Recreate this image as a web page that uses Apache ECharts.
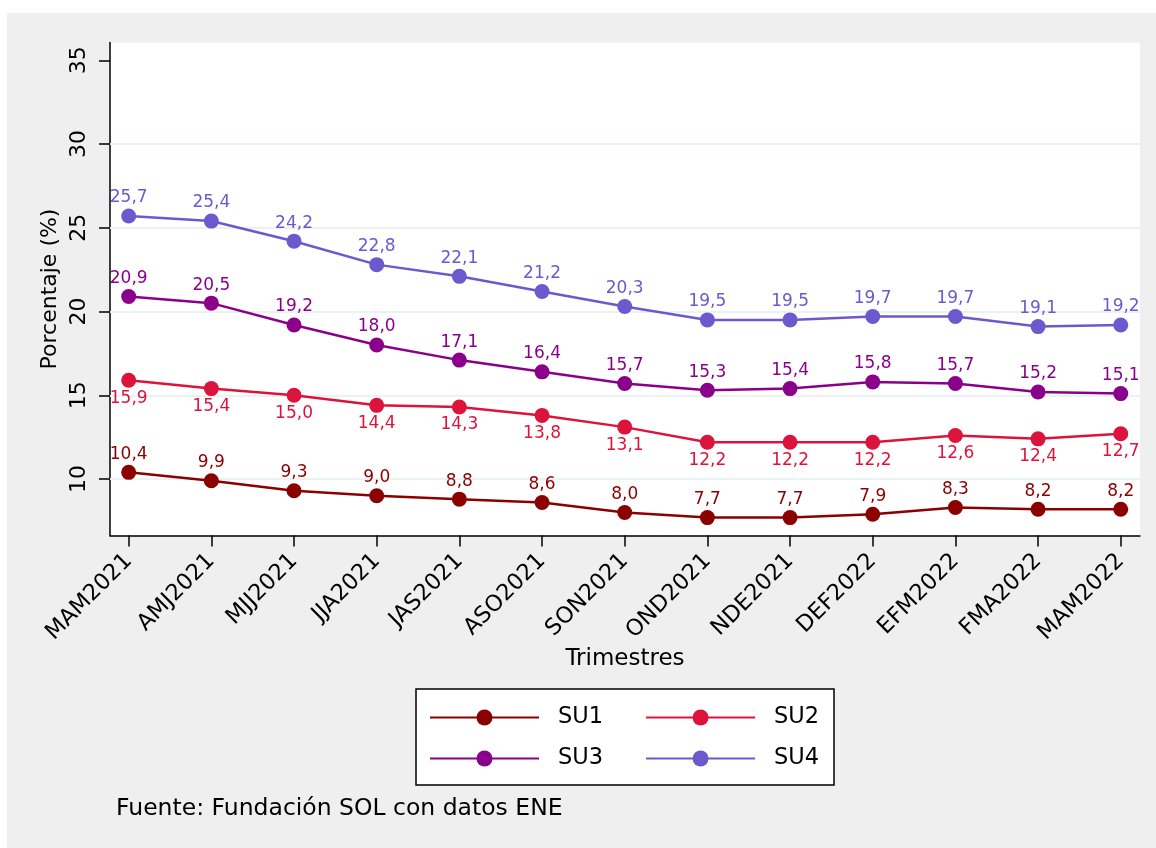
<!DOCTYPE html>
<html>
<head>
<meta charset="utf-8">
<script src="https://cdn.jsdelivr.net/npm/echarts@6/dist/echarts.min.js"></script>
<style>
html,body{margin:0;padding:0;background:#ffffff;width:1156px;height:848px;overflow:hidden;}
#chart{position:absolute;left:7px;top:13px;width:1149px;height:835px;}
</style>
</head>
<body>
<div id="chart"></div>
<script>
const categories = ['MAM2021','AMJ2021','MJJ2021','JJA2021','JAS2021','ASO2021','SON2021','OND2021','NDE2021','DEF2022','EFM2022','FMA2022','MAM2022'];
const su1 = [10.4, 9.9, 9.3, 9.0, 8.8, 8.6, 8.0, 7.7, 7.7, 7.9, 8.3, 8.2, 8.2];
const su2 = [15.9, 15.4, 15.0, 14.4, 14.3, 13.8, 13.1, 12.2, 12.2, 12.2, 12.6, 12.4, 12.7];
const su3 = [20.9, 20.5, 19.2, 18.0, 17.1, 16.4, 15.7, 15.3, 15.4, 15.8, 15.7, 15.2, 15.1];
const su4 = [25.7, 25.4, 24.2, 22.8, 22.1, 21.2, 20.3, 19.5, 19.5, 19.7, 19.7, 19.1, 19.2];
const yTicks = [10, 15, 20, 25, 30, 35];
const gridValues = [10, 15, 20, 25, 30];
const seriesNames = ['SU1', 'SU2', 'SU3', 'SU4'];
const colors = ['#8b0000', '#dc143c', '#8b008b', '#6a5acd'];

const FONT = 'DejaVu Sans';
const xIdx = categories.map((c, i) => i);
const fmt = v => v.toFixed(1).replace('.', ',');

function mkSeries(name, vals, color, pos) {
  return {
    name: name,
    type: 'line',
    data: vals.map((v, i) => [i, v]),
    symbol: 'circle',
    symbolSize: 15,
    zlevel: 1,
    z: 3,
    lineStyle: {color: color, width: 2.5},
    itemStyle: {color: color},
    label: {
      show: true, position: pos, distance: 2,
      color: color, fontFamily: FONT, fontSize: 17,
      formatter: p => fmt(p.value[1])
    },
    emphasis: {disabled: true},
    animation: false
  };
}

const chart = echarts.init(document.getElementById('chart'), null, {renderer: 'canvas'});
chart.setOption({
  backgroundColor: '#efefef',
  animation: false,
  textStyle: {fontFamily: FONT},
  title: {
    text: 'Fuente: Fundación SOL con datos ENE',
    left: 109, top: 784, padding: 0,
    textStyle: {fontFamily: FONT, fontSize: 23.5, fontWeight: 'normal', color: '#000'}
  },
  grid: {
    left: 103, right: 16, top: 29.5, bottom: 312.5,
    show: true, backgroundColor: '#ffffff', borderWidth: 0
  },
  xAxis: {
    type: 'value', min: -0.226, max: 12.233,
    name: 'Trimestres', nameLocation: 'middle', nameGap: 112, nameMoveOverlap: false,
    nameTextStyle: {fontFamily: FONT, fontSize: 23, color: '#000'},
    axisLine: {show: true, onZero: false, lineStyle: {color: '#000', width: 1.5}},
    axisTick: {show: true, length: 11, lineStyle: {color: '#000', width: 1.5}, customValues: xIdx},
    axisLabel: {
      customValues: xIdx, rotate: 45, margin: 22,
      fontFamily: FONT, fontSize: 22.5, color: '#000',
      formatter: v => categories[Math.round(v)]
    },
    splitLine: {show: false}
  },
  yAxis: {
    type: 'value', min: 6.63, max: 36.06,
    name: 'Porcentaje (%)', nameLocation: 'middle', nameGap: 49, nameMoveOverlap: false,
    nameTextStyle: {fontFamily: FONT, fontSize: 22, color: '#000'},
    axisLine: {show: true, onZero: false, lineStyle: {color: '#000', width: 1.5}},
    axisTick: {show: true, length: 11, lineStyle: {color: '#000', width: 1.5}, customValues: yTicks},
    axisLabel: {
      customValues: yTicks, rotate: 90, margin: 20,
      fontFamily: FONT, fontSize: 22, color: '#000'
    },
    splitLine: {show: false}
  },
  legend: [
    {
      data: ['SU1', 'SU2'], left: 422, top: 693, padding: 0,
      itemWidth: 109, itemHeight: 20, itemGap: 42,
      textStyle: {fontFamily: FONT, fontSize: 22.5, color: '#000', padding: [0, 0, 0, 14]},
      selectedMode: false
    },
    {
      data: ['SU3', 'SU4'], left: 422, top: 734, padding: 0,
      itemWidth: 109, itemHeight: 20, itemGap: 42,
      textStyle: {fontFamily: FONT, fontSize: 22.5, color: '#000', padding: [0, 0, 0, 14]},
      selectedMode: false
    }
  ],
  graphic: [{
    type: 'rect', z: -1, silent: true,
    shape: {x: 409, y: 676, width: 418, height: 96},
    style: {fill: '#ffffff', stroke: '#000', lineWidth: 1.5}
  }],
  series: [
    {
      name: 'grid', type: 'line', data: [], z: 1, zlevel: 0, silent: true,
      markLine: {
        silent: true, symbol: 'none', animation: false,
        label: {show: false},
        lineStyle: {color: '#eaf2f3', width: 2, type: 'solid'},
        emphasis: {disabled: true},
        data: gridValues.map(v => ({yAxis: v}))
      }
    },
    mkSeries(seriesNames[0], su1, colors[0], 'top'),
    mkSeries(seriesNames[1], su2, colors[1], 'bottom'),
    mkSeries(seriesNames[2], su3, colors[2], 'top'),
    mkSeries(seriesNames[3], su4, colors[3], 'top')
  ]
});
</script>
</body>
</html>
